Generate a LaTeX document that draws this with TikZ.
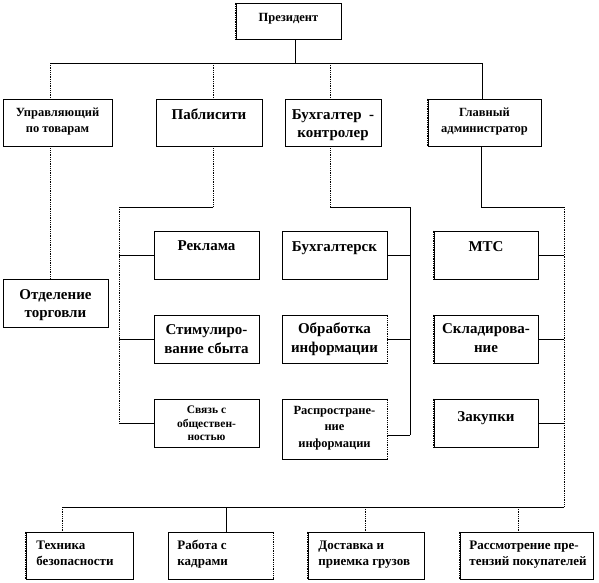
\documentclass[tikz,border=0pt]{standalone}
\usepackage{fontspec}
\setmainfont{Liberation Serif}
\newcommand\fS{\fontsize{12.5}{16}\selectfont\bfseries}
\newcommand\fL{\fontsize{15}{18}\selectfont\bfseries}
\newcommand\fLL{\fontsize{15}{19}\selectfont\bfseries}
\newcommand\fX{\fontsize{11.5}{13.5}\selectfont\bfseries}
\newcommand\fM{\fontsize{12.5}{16.5}\selectfont\bfseries}
\newcommand\fB{\fontsize{13}{16}\selectfont\bfseries}
\newcommand\hr{\rule{0pt}{12pt}}
\newcommand\dedge[2]{\draw[white,line width=1.4pt] #1 -- #2; \draw[dl] #1 -- #2;}
\begin{document}
\begin{tikzpicture}[x=1pt,y=-1pt,line width=0.8pt,
  box/.style={draw,inner sep=0pt},
  tx/.style={inner sep=0pt,align=center,anchor=north},
  tl/.style={inner sep=0pt,align=left,anchor=north west},
  dl/.style={densely dotted}]
\useasboundingbox (0,0) rectangle (599,582);
% boxes
\node[box,minimum width=105pt,minimum height=36pt] (pres) at (288.5,21) {};
\node[box,minimum width=109pt,minimum height=47pt] (upr) at (57.5,122.5) {};
\node[box,minimum width=106pt,minimum height=47pt] (pab) at (209,122.5) {};
\node[box,minimum width=96pt,minimum height=47pt] (buh) at (333,122.5) {};
\node[box,minimum width=113pt,minimum height=47pt] (glav) at (484.5,122.5) {};
\node[box,minimum width=105pt,minimum height=48pt] (otd) at (55.5,303) {};
\node[box,minimum width=105pt,minimum height=48pt] (rek) at (206.5,255) {};
\node[box,minimum width=105pt,minimum height=48pt] (stim) at (206.5,339) {};
\node[box,minimum width=105pt,minimum height=48pt] (sv) at (206.5,423) {};
\node[box,minimum width=105pt,minimum height=48pt] (bk) at (334.5,255) {};
\node[box,minimum width=105pt,minimum height=48pt] (obr) at (334.5,339) {};
\node[box,minimum width=105pt,minimum height=60pt] (rasp) at (334.5,429) {};
\node[box,minimum width=104pt,minimum height=48pt] (mts) at (486,255) {};
\node[box,minimum width=104pt,minimum height=48pt] (skl) at (486,339) {};
\node[box,minimum width=104pt,minimum height=48pt] (zak) at (486,423) {};
\node[box,minimum width=107pt,minimum height=47pt] (b1) at (79.5,555.5) {};
\node[box,minimum width=105pt,minimum height=47pt] (b2) at (220.5,555.5) {};
\node[box,minimum width=116pt,minimum height=47pt] (b3) at (366,555.5) {};
\node[box,minimum width=133pt,minimum height=47pt] (b4) at (526.5,555.5) {};
% texts
\node[tx,font=\fS] (presT) at (288.5,9) {\hr Президент};
\node[tx,font=\fS] (uprT) at (57.5,104.5) {\hr Управляющий\\по товарам};
\node[tx,font=\fL] (pabT) at (209,107.5) {\hr Паблисити};
\node[tx,font=\fL] (buhT) at (333,107.5) {\hr Бухгалтер~~-\\контролер};
\node[tx,font=\fS] (glavT) at (484.5,104.5) {\hr Главный\\администратор};
\node[tx,font=\fL] (otdT) at (55.5,287.5) {\hr Отделение\\торговли};
\node[tx,font=\fL] (rekT) at (206.5,238.5) {\hr Реклама};
\node[tx,font=\fLL] (stimT) at (206.5,322) {\hr Стимулиро-\\вание сбыта};
\node[tx,font=\fX] (svT) at (206.5,401.5) {\hr Связь с\\обществен-\\ностью};
\node[tx,font=\fL] (bkT) at (334.5,239) {\hr Бухгалтерск};
\node[tx,font=\fLL] (obrT) at (334.5,321) {\hr Обработка\\информации};
\node[tx,font=\fM] (raspT) at (334.5,402) {\hr Распростране-\\ние\\информации};
\node[tx,font=\fL] (mtsT) at (486,239) {\hr МТС};
\node[tx,font=\fLL] (sklT) at (486,321) {\hr Складирова-\\ние};
\node[tx,font=\fL] (zakT) at (486,409) {\hr Закупки};
\node[tl,font=\fB] (b1T) at (36,537) {\hr Техника\\безопасности};
\node[tl,font=\fB] (b2T) at (177,537) {\hr Работа с\\кадрами};
\node[tl,font=\fB] (b3T) at (318,537) {\hr Доставка и\\приемка грузов};
\node[tl,font=\fB] (b4T) at (469,537) {\hr Рассмотрение пре-\\тензий покупателей};
% artifact dotted edges
\dedge{(pres.north west)}{(pres.south west)}
\dedge{(glav.north west)}{(glav.south west)}
\dedge{(obr.north east)}{(obr.south east)}
\dedge{(rasp.north east)}{(rasp.south east)}
\dedge{(mts.north west)}{(mts.south west)}
\dedge{(skl.north west)}{(skl.south west)}
\dedge{(zak.north west)}{(zak.south west)}
\dedge{(b1.north west)}{(b1.south west)}
\dedge{(b2.north east)}{(b2.south east)}
\dedge{(b3.north west)}{(b3.south west)}
\dedge{(b4.north west)}{(b4.south west)}
% top bus
\coordinate (tb0) at (295,63);
\coordinate (tb1) at (50,63);
\coordinate (tb2) at (213,63);
\coordinate (tb3) at (330,63);
\coordinate (tb4) at (482,63);
\draw (tb0 |- pres.south) -- (tb0);
\draw (tb1) -- (tb4);
\draw[dl] (tb1) -- (tb1 |- upr.north);
\draw[dl] (tb2) -- (tb2 |- pab.north);
\draw[dl] (tb3) -- (tb3 |- buh.north);
\draw (tb4) -- (tb4 |- glav.north);
% Управляющий -> Отделение
\draw[dl] (tb1 |- upr.south) -- (tb1 |- otd.north);
% Паблисити
\coordinate (pA) at (213,207);
\coordinate (pL) at (119,207);
\draw[dl] (pA |- pab.south) -- (pA);
\draw (pA) -- (pL);
\draw[dl] (pL) -- (pL |- sv.west);
\draw (pL |- rek.west) -- (rek.west);
\draw (pL |- stim.west) -- (stim.west);
\draw (pL |- sv.west) -- (sv.west);
% Бухгалтер
\coordinate (bA) at (330,207);
\coordinate (bR) at (410,207);
\coordinate (jr) at (410,435);
\draw[dl] (bA |- buh.south) -- (bA);
\draw (bA) -- (bR) -- (jr);
\draw (bk.east) -- (bk.east -| bR);
\draw (obr.east) -- (obr.east -| bR);
\draw (jr -| rasp.east) -- (jr);
% Главный
\coordinate (gA) at (481,207);
\coordinate (gR) at (564,207);
\coordinate (busR) at (564,507);
\draw (gA |- glav.south) -- (gA) -- (gR);
\draw[dl] (gR) -- (busR);
\draw (mts.east) -- (mts.east -| gR);
\draw (skl.east) -- (skl.east -| gR);
\draw (zak.east) -- (zak.east -| gR);
% bottom bus
\coordinate (d1) at (62,507);
\coordinate (d2) at (226,507);
\coordinate (d3) at (365,507);
\coordinate (d4) at (518,507);
\draw (d1) -- (busR);
\draw[dl] (d1) -- (d1 |- b1.north);
\draw (d2) -- (d2 |- b2.north);
\draw[dl] (d3) -- (d3 |- b3.north);
\draw[dl] (d4) -- (d4 |- b4.north);
\end{tikzpicture}
\end{document}
